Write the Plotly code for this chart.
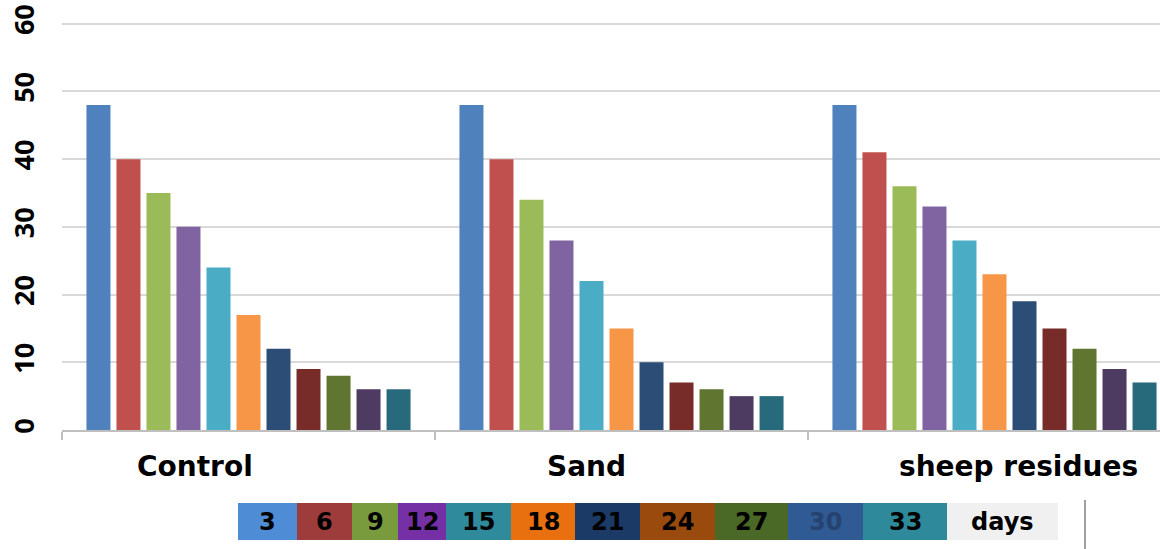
import plotly.graph_objects as go

# ---- data -------------------------------------------------------------
categories = ["Control", "Sand", "sheep residues"]
days = ["3", "6", "9", "12", "15", "18", "21", "24", "27", "30", "33"]

control = [48, 40, 35, 30, 24, 17, 12, 9, 8, 6, 6]
sand = [48, 40, 34, 28, 22, 15, 10, 7, 6, 5, 5]
sheep_residues = [48, 41, 36, 33, 28, 23, 19, 15, 12, 9, 7]

y_ticks = [0, 10, 20, 30, 40, 50, 60]

# ---- styling ----------------------------------------------------------
bar_colors = ["#4F81BD", "#C0504D", "#9BBB59", "#8064A2", "#4BACC6", "#F79646",
              "#2C4D75", "#772C2A", "#5F7530", "#4D3B62", "#276A7C"]
key_colors = ["#4E8DD6", "#9E3B3B", "#7A9A3E", "#7530A6", "#2F8A9C", "#E8700F",
              "#1B3A66", "#9A4A0C", "#4A6826", "#2F5A94", "#2E8A9A"]
key_text_colors = ["#000000"] * 9 + ["#26436F", "#000000"]

W, H = 1160, 549
M_L, M_R, M_T, M_B = 62, 0, 22, 119
PLOT_W = W - M_L - M_R
PLOT_H = H - M_T - M_B
Y_MAX = 60.25  # a little headroom so the top gridline stays visible

# colour key below the chart: box edges in pixels, last box holds "days"
key_edges_px = [238, 297, 352, 398, 446, 511, 575, 640, 715, 788, 863, 947, 1058]
key_top_px, key_bottom_px = 503, 540

# category captions sit slightly off their group centres
caption_offsets = [-0.143, -0.095, 0.065]
caption_y_px = 467


def px_to_paper_x(px):
    return (px - M_L) / PLOT_W


def px_to_paper_y(py):
    return (H - M_B - py) / PLOT_H


fig = go.Figure()

per_category = list(zip(control, sand, sheep_residues))
for i, day in enumerate(days):
    fig.add_trace(go.Bar(
        x=categories,
        y=list(per_category[i]),
        name=day,
        marker=dict(color=bar_colors[i], line=dict(width=0)),
        showlegend=False,
    ))

# colour key
shapes = []
annotations = []
key_y0 = px_to_paper_y(key_bottom_px)
key_y1 = px_to_paper_y(key_top_px)
key_labels = days + ["days"]
key_fills = key_colors + ["#F0F0F0"]
key_fonts = key_text_colors + ["#000000"]
for j, label in enumerate(key_labels):
    x0 = px_to_paper_x(key_edges_px[j])
    x1 = px_to_paper_x(key_edges_px[j + 1])
    shapes.append(dict(type="rect", xref="paper", yref="paper",
                       x0=x0, x1=x1, y0=key_y0, y1=key_y1,
                       fillcolor=key_fills[j], line=dict(width=0), layer="above"))
    annotations.append(dict(xref="paper", yref="paper",
                            x=(x0 + x1) / 2, y=(key_y0 + key_y1) / 2,
                            text=label, showarrow=False,
                            xanchor="center", yanchor="middle",
                            font=dict(family="DejaVu Sans", size=24,
                                      color=key_fonts[j], weight="bold")))

# thin separator to the right of the key
shapes.append(dict(type="line", xref="paper", yref="paper",
                   x0=px_to_paper_x(1085), x1=px_to_paper_x(1085),
                   y0=px_to_paper_y(549), y1=px_to_paper_y(500),
                   line=dict(color="#A0A0A0", width=2)))

# group captions
for k, cat in enumerate(categories):
    annotations.append(dict(xref="x", yref="paper",
                            x=k + caption_offsets[k], y=px_to_paper_y(caption_y_px),
                            text=cat, showarrow=False,
                            xanchor="center", yanchor="middle",
                            font=dict(family="DejaVu Sans", size=28,
                                      color="#000000", weight="bold")))

fig.update_layout(
    width=W, height=H,
    margin=dict(l=M_L, r=M_R, t=M_T, b=M_B, pad=0),
    barmode="group",
    bargap=0.115,
    bargroupgap=0.2,
    paper_bgcolor="white",
    plot_bgcolor="white",
    shapes=shapes,
    annotations=annotations,
    xaxis=dict(
        type="category",
        range=[-0.5, -0.5 + PLOT_W / 373.0],
        showticklabels=False,
        showgrid=False,
        ticks="outside",
        tickson="boundaries",
        ticklen=8,
        tickcolor="#BFBFBF",
        tickwidth=1.5,
        showline=True,
        linecolor="#BFBFBF",
        linewidth=1.5,
        zeroline=False,
    ),
    yaxis=dict(
        range=[0, Y_MAX],
        tickvals=y_ticks,
        ticktext=[str(v) for v in y_ticks],
        tickangle=-90,
        tickfont=dict(family="Open Sans", size=27, color="#000000", weight="bold"),
        ticklabelstandoff=22,
        showgrid=True,
        gridcolor="#D9D9D9",
        gridwidth=2,
        zeroline=False,
        showline=False,
        ticks="",
    ),
)

fig.write_html("out.html")
